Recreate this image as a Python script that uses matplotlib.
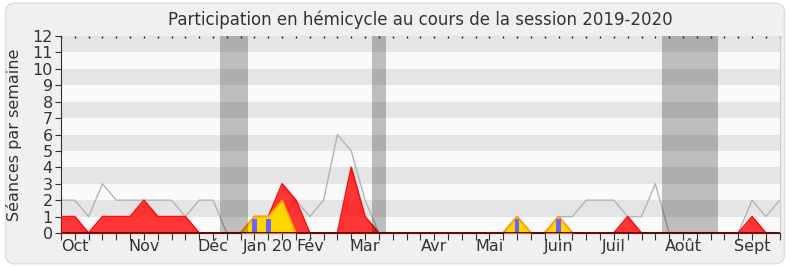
import matplotlib
matplotlib.use("Agg")
import matplotlib.pyplot as plt
import numpy as np
from matplotlib.patches import FancyBboxPatch

plt.rcParams['font.family'] = ['DejaVu Sans']

# ---- data ----
weeks = list(range(53))
total = [2, 2, 1, 3, 2, 2, 2, 2, 2, 1, 2, 2, 0, 0, 0, 0, 1, 2, 1, 2, 6, 5, 2, 0,
         0, 0, 0, 0, 0, 0, 0, 0, 0, 1, 0, 0, 1, 1, 2, 2, 2, 1, 1, 3, 0,
         0, 0, 0, 0, 0, 2, 1, 2]
presence = [1, 1, 0, 1, 1, 1, 2, 1, 1, 1, 0, 0, 0, 0, 1, 1, 3, 2, 0, 0, 0, 4, 1, 0,
            0, 0, 0, 0, 0, 0, 0, 0, 0, 1, 0, 0, 1, 0, 0, 0, 0, 1, 0, 0, 0,
            0, 0, 0, 0, 0, 1, 0, 0]
interventions = [0, 0, 0, 0, 0, 0, 0, 0, 0, 0, 0, 0, 0, 0, 1, 1, 2, 0, 0, 0, 0, 0, 0, 0,
                 0, 0, 0, 0, 0, 0, 0, 0, 0, 1, 0, 0, 1, 0, 0, 0, 0, 0, 0, 0, 0,
                 0, 0, 0, 0, 0, 0, 0, 0]
question_weeks = [14, 15, 33, 36]
questions = [1, 1, 1, 1]
vacations = [(11.5, 13.5), (22.5, 23.5), (43.5, 47.5)]
month_pos = [1, 6, 11, 15, 18, 22, 27, 31, 36, 40, 45, 50]
month_labels = ["Oct", "Nov", "Déc", "Jan 20", "Fév", "Mar", "Avr", "Mai",
                "Juin", "Juil", "Août", "Sept"]
title = "Participation en hémicycle au cours de la session 2019-2020"
ylabel = "Séances par semaine"

# ---- figure ----
fig = plt.figure(figsize=(7.9, 2.67), dpi=100)
fig.patch.set_facecolor('white')
bg = FancyBboxPatch((0.007, 0.012), 0.986, 0.976, boxstyle="round,pad=0,rounding_size=0.012",
                    transform=fig.transFigure, facecolor='#F0F0F0', edgecolor='#DCDCDC',
                    linewidth=1.0, mutation_aspect=790/267, zorder=-10)
fig.patches.append(bg)

ax = fig.add_axes([0.0772, 0.1273, 0.9098, 0.7377])
ax.set_zorder(5)
ax.set_facecolor('#FAFAFA')
ax.set_xlim(0, 52)
ax.set_ylim(0, 12)

for k in range(1, 12, 2):
    ax.axhspan(k, k + 1, color='#E5E5E5', zorder=0, lw=0)

x = np.array(weeks)
ax.plot(x, total, color='#B4B4B4', lw=1.0, zorder=2)
ax.fill_between(x, presence, 0, color='#FF0000', alpha=0.78, lw=0, zorder=3)
ax.plot(x, presence, color='#FF1010', lw=1.2, zorder=3)
ax.fill_between(x, interventions, 0, color='#FFD700', lw=0, zorder=4)
ax.plot(x, interventions, color='#FFAA00', lw=1.2, zorder=4)
ax.bar(question_weeks, np.array(questions) * 0.88, width=0.32, color='#6666FF', zorder=5)
ax.axhline(0, color='#5A1010', lw=1.5, zorder=6)

for a, b in vacations:
    ax.axvspan(a, b, color='black', alpha=0.24, lw=0, zorder=7)

ax.set_title(title, fontsize=12, color='#333333', pad=8)
ax.set_ylabel(ylabel, fontsize=11.5, color='#333333', labelpad=7)

ax.set_yticks(range(13))
ax.set_yticklabels([str(i) for i in range(13)], fontsize=11.5, color='#333333')
ax.xaxis.remove_overlapping_locs = False
ax.set_xticks(weeks)
ax.set_xticklabels([])
ax.set_xticks(month_pos, minor=True)
ax.set_xticklabels(month_labels, minor=True, fontsize=11.5, color='#333333')
ax.tick_params(axis='x', which='minor', length=0, pad=4)
ax.tick_params(axis='x', which='major', length=5, width=0.8, color='#333333', direction='out')
ax.tick_params(axis='y', length=4, width=0.8, color='#333333', pad=2)

ax.spines['top'].set_visible(False)
ax.spines['right'].set_color('#CCCCCC')
ax.spines['left'].set_color('#333333')
ax.spines['bottom'].set_color('#5A1010')

# small dotted ticks along the top edge
top = ax.secondary_xaxis('top')
top.set_xticks(weeks)
top.set_xticklabels([])
top.tick_params(length=1.5, width=1.0, direction='in', color='#222222')
top.spines['top'].set_visible(False)

fig.savefig('out.png', dpi=100, facecolor=fig.get_facecolor())
